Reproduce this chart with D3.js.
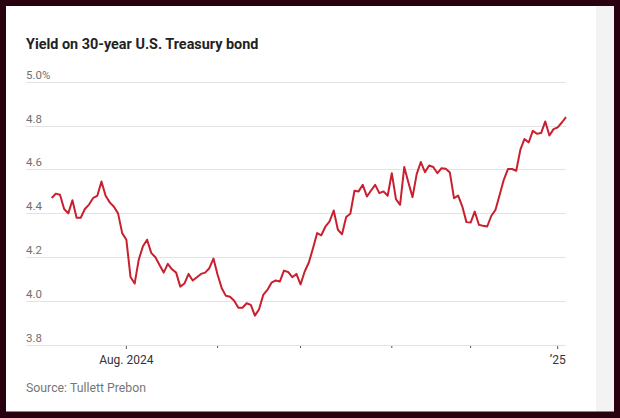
<!DOCTYPE html>
<html>
<head>
<meta charset="utf-8">
<script src="https://cdn.jsdelivr.net/npm/d3@7"></script>
<style>
  html, body { margin: 0; padding: 0; background: #28000f; }
  svg { display: block; }
  text { font-family: Roboto, "Noto Sans", sans-serif; }
</style>
</head>
<body>
<svg id="chart" width="620" height="418"></svg>
<script>
const TITLE = 'Yield on 30-year U.S. Treasury bond'
const SOURCE = 'Source: Tullett Prebon'

// daily closes, one per trading day, early July 2024 to early Jan. 2025
const yields = [
  4.47, 4.49, 4.485, 4.42, 4.40, 4.46, 4.38, 4.38, 4.42, 4.44,
  4.47, 4.48, 4.545, 4.48, 4.45, 4.43, 4.40, 4.31, 4.28, 4.11,
  4.08, 4.19, 4.25, 4.28, 4.22, 4.20, 4.165, 4.13, 4.17, 4.145,
  4.13, 4.066, 4.08, 4.124, 4.094, 4.109, 4.124, 4.13, 4.15, 4.194,
  4.12, 4.059, 4.024, 4.02, 4.002, 3.97, 3.97, 3.99, 3.983, 3.934,
  3.963, 4.028, 4.051, 4.084, 4.094, 4.089, 4.139, 4.133, 4.109, 4.124,
  4.076, 4.135, 4.176, 4.241, 4.31, 4.30, 4.34, 4.363, 4.413, 4.325,
  4.305, 4.383, 4.398, 4.503, 4.50, 4.53, 4.477, 4.504, 4.53, 4.492,
  4.50, 4.48, 4.583, 4.465, 4.439, 4.611, 4.541, 4.474, 4.579, 4.634,
  4.588, 4.618, 4.611, 4.583, 4.606, 4.603, 4.586, 4.469, 4.481, 4.431,
  4.36, 4.358, 4.408, 4.348, 4.343, 4.34, 4.389, 4.416, 4.484, 4.553,
  4.602, 4.602, 4.594, 4.69, 4.739, 4.723, 4.776, 4.763, 4.766, 4.819,
  4.755, 4.784, 4.792, 4.814, 4.839
]

// first trading day of each month, as an index into yields
const monthStarts = [18, 40, 60, 82, 101, 122]
const monthLabels = ['Aug. 2024', '', '', '', '', '\u201925']

const yTicks = [3.8, 4.0, 4.2, 4.4, 4.6, 4.8, 5.0]

const svg = d3.select('#chart')

// white card plus the grey strip on the right
svg.append('rect')
   .attr('x', 6).attr('y', 6)
   .attr('width', 590).attr('height', 405.5)
   .attr('fill', '#fff')
svg.append('rect')
   .attr('x', 596).attr('y', 6)
   .attr('width', 18).attr('height', 405.5)
   .attr('fill', '#f3f3f3')

const x = d3.scaleLinear()
            .domain([0, yields.length - 1])
            .range([51.7, 566])

const y = d3.scaleLinear()
            .domain([3.8, 5.0])
            .range([345, 81.7])

const gridLeft = 26
const gridRight = 566

svg.append('text')
   .attr('x', gridLeft)
   .attr('y', 49)
   .attr('font-size', 14.4)
   .attr('font-weight', 700)
   .attr('fill', '#222')
   .text(TITLE)

// horizontal gridlines with labels sitting on top of them
const grid = svg.append('g')
grid.selectAll('line')
    .data(yTicks)
    .enter()
    .append('line')
    .attr('x1', gridLeft)
    .attr('x2', gridRight)
    .attr('y1', d => Math.round(y(d)) + 0.5)
    .attr('y2', d => Math.round(y(d)) + 0.5)
    .attr('stroke', '#e3e3e3')
    .attr('stroke-width', 1)

grid.selectAll('text')
    .data(yTicks)
    .enter()
    .append('text')
    .attr('x', gridLeft)
    .attr('y', d => y(d) - 3)
    .attr('font-size', 11.5)
    .attr('fill', '#707070')
    .text(d => d === 5.0 ? d3.format('.1f')(d) + '%' : d3.format('.1f')(d))

// month ticks under the baseline
const xAxis = svg.append('g')
xAxis.selectAll('line')
     .data(monthStarts)
     .enter()
     .append('line')
     .attr('x1', d => x(d))
     .attr('x2', d => x(d))
     .attr('y1', y(3.8) + 1)
     .attr('y2', (d, i) => y(3.8) + (monthLabels[i] ? 4 : 3))
     .attr('stroke', '#555')
     .attr('stroke-width', 1)

xAxis.selectAll('text')
     .data(monthStarts)
     .enter()
     .append('text')
     .attr('x', d => x(d))
     .attr('y', 364)
     .attr('text-anchor', 'middle')
     .attr('font-size', 12)
     .attr('fill', '#333')
     .text((d, i) => monthLabels[i])

const line = d3.line()
               .x((d, i) => x(i))
               .y(d => y(d))

svg.append('path')
   .datum(yields)
   .attr('d', line)
   .attr('fill', 'none')
   .attr('stroke', '#c9202f')
   .attr('stroke-width', 2)
   .attr('stroke-linejoin', 'round')

svg.append('text')
   .attr('x', gridLeft)
   .attr('y', 392)
   .attr('font-size', 12.3)
   .attr('fill', '#777')
   .text(SOURCE)
</script>
</body>
</html>
